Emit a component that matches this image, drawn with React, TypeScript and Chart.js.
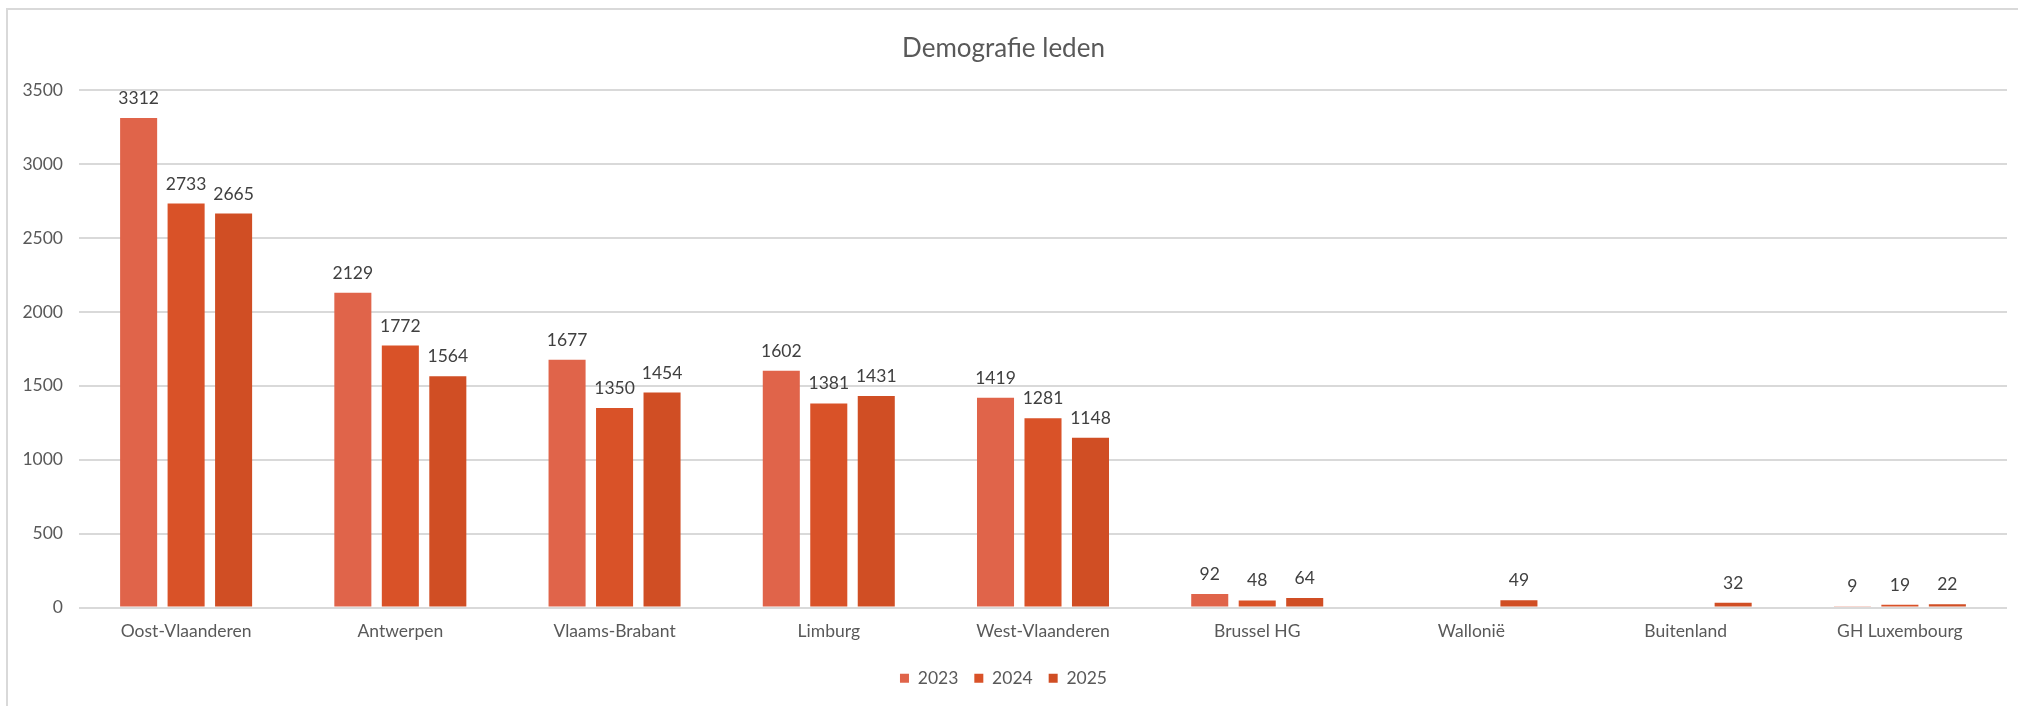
import React, { useEffect, useRef } from "react";
import { Chart, registerables } from "chart.js";

Chart.register(...registerables);

const categories = [
  "Oost-Vlaanderen",
  "Antwerpen",
  "Vlaams-Brabant",
  "Limburg",
  "West-Vlaanderen",
  "Brussel HG",
  "Wallonië",
  "Buitenland",
  "GH Luxembourg",
];
const seriesLabels = ["2023", "2024", "2025"];
const values2023 = [3312, 2129, 1677, 1602, 1419, 92, null, null, 9];
const values2024 = [2733, 1772, 1350, 1381, 1281, 48, null, null, 19];
const values2025 = [2665, 1564, 1454, 1431, 1148, 64, 49, 32, 22];
const seriesColors = ["#E0644A", "#D95228", "#D04E24"];
const yMax = 3500;
const yStep = 500;
const titleText = "Demografie leden";

const FONT = "Lato, 'Noto Sans', sans-serif";
const TEXT = "#595959";

const dataLabels = {
  id: "dataLabels",
  afterDatasetsDraw(chart: any) {
    const ctx = chart.ctx;
    ctx.save();
    ctx.font = `17.5px ${FONT}`;
    ctx.fillStyle = "#404040";
    ctx.textAlign = "center";
    ctx.textBaseline = "alphabetic";
    chart.data.datasets.forEach((ds: any, i: number) => {
      const meta = chart.getDatasetMeta(i);
      meta.data.forEach((bar: any, j: number) => {
        const v = ds.data[j];
        if (v === null || v === undefined) return;
        ctx.fillText(String(v), bar.x, bar.y - 14);
      });
    });
    ctx.restore();
  },
};

export default function App() {
  const ref = useRef<HTMLCanvasElement | null>(null);
  useEffect(() => {
    document.body.style.margin = "0";
    const all = [values2023, values2024, values2025];
    const chart = new Chart(ref.current as HTMLCanvasElement, {
      type: "bar",
      data: {
        labels: categories,
        datasets: all.map((d, i) => ({
          label: seriesLabels[i],
          data: d as any,
          backgroundColor: seriesColors[i],
          borderWidth: 0,
          categoryPercentage: 0.665,
          barPercentage: 0.78,
        })),
      },
      options: {
        animation: false,
        responsive: false,
        maintainAspectRatio: false,
        layout: { padding: { left: 0, right: 11, top: 0, bottom: 9 } },
        plugins: {
          title: {
            display: true,
            text: titleText,
            color: TEXT,
            font: { family: FONT, size: 26, weight: "normal" },
            padding: { top: 33, bottom: 26 },
          },
          legend: {
            position: "bottom",
            labels: {
              boxWidth: 9,
              boxHeight: 9,
              color: TEXT,
              font: { family: FONT, size: 17.5 },
              padding: 16,
            },
          },
          tooltip: { enabled: false },
        },
        scales: {
          x: {
            afterFit: (s: any) => {
              s.height = s.height + 7;
            },
            grid: { display: false },
            border: { display: false },
            ticks: {
              color: TEXT,
              font: { family: FONT, size: 17.5 },
              padding: 5,
              maxRotation: 0,
              autoSkip: false,
            },
          },
          y: {
            min: 0,
            max: yMax,
            afterFit: (s: any) => {
              s.width = 79;
            },
            grid: { color: "#D9D9D9", lineWidth: 2, drawTicks: false },
            border: { display: false },
            ticks: {
              stepSize: yStep,
              color: TEXT,
              font: { family: FONT, size: 17.5 },
              padding: 16,
              callback: (v: any) => String(v),
            },
          },
        },
      },
      plugins: [dataLabels],
    });
    return () => chart.destroy();
  }, []);
  return (
    <div style={{ position: "relative", width: 2018, height: 706, overflow: "hidden", background: "#fff" }}>
      <div
        style={{
          position: "absolute",
          left: 6,
          top: 8,
          width: 2100,
          height: 800,
          borderTop: "2px solid #D9D9D9",
          borderLeft: "2px solid #D9D9D9",
          boxSizing: "border-box",
        }}
      />
      <canvas ref={ref} width={2018} height={706} style={{ position: "absolute", left: 0, top: 0 }} />
    </div>
  );
}
